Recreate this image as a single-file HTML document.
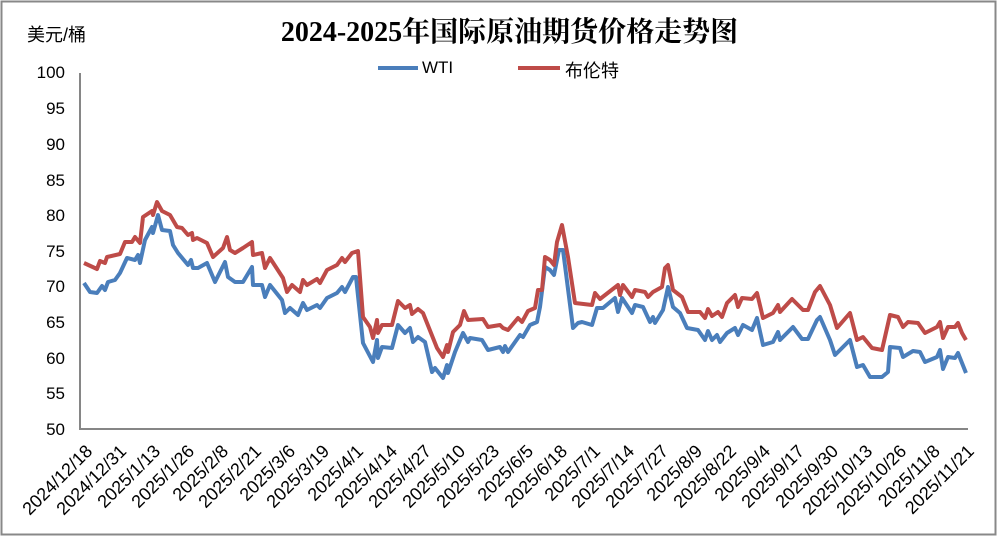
<!DOCTYPE html>
<html><head><meta charset="utf-8"><style>
body{margin:0;background:#fff;}
#c{position:relative;width:997px;height:536px;overflow:hidden;font-family:"Liberation Sans","Noto Sans CJK SC",sans-serif;}
.yl{position:absolute;right:932px;font-size:17px;color:#000;width:40px;text-align:right;}
.xl{position:absolute;font-size:18px;white-space:nowrap;transform-origin:100% 0;transform:rotate(-45deg);}
</style></head><body><div id="c">
<svg width="997" height="536" style="position:absolute;left:0;top:0">
<rect x="1.5" y="1.5" width="994" height="533" fill="#fff" stroke="#888" stroke-width="2"/>
<polyline points="80,73 80,429 968,429" fill="none" stroke="#868686" stroke-width="2"/>
<line x1="378" y1="68" x2="418" y2="68" stroke="#4a7ebb" stroke-width="4"/>
<line x1="518" y1="68" x2="560" y2="68" stroke="#be4b48" stroke-width="4"/>
<polyline fill="none" stroke="#4a7ebb" stroke-width="4" stroke-linejoin="round" points="84,283 90,292 97,293 102,286 105,290 108,282 115,280 120,273 127,258 135,260 138,255 140,263 145,240 152,227 153,233 158,215 162,230 170,231 173,245 178,253 188,265 191,260 193,268 198,268 207,263 215,282 225,262 228,277 235,282 243,282 252,267 253,285 262,285 265,297 270,285 282,300 285,313 290,308 298,315 303,303 307,310 317,305 320,308 327,298 337,293 342,287 345,292 353,277 356,277 363,343 373,362 377,340 378,358 382,347 392,348 398,325 405,333 410,328 413,342 418,337 425,342 432,372 435,368 443,378 447,365 448,373 455,352 463,333 468,342 470,338 482,340 488,350 500,347 503,352 505,346 508,352 520,335 523,337 530,325 537,322 540,307 545,267 550,270 554,275 559,250 563,250 573,328 578,323 582,322 592,325 597,308 603,308 615,298 618,312 622,298 632,313 635,305 643,307 650,322 653,317 655,323 663,310 668,287 673,307 680,313 687,328 698,330 705,340 708,331 712,340 717,335 720,342 727,333 735,328 738,335 743,325 752,330 757,318 763,345 773,342 778,332 780,340 793,327 802,339 808,339 817,320 820,317 830,340 835,355 850,340 857,367 863,365 870,377 882,377 888,372 890,347 900,348 903,357 913,351 920,352 925,362 937,357 940,350 943,369 948,357 955,358 958,353 962,363 966,373"/>
<polyline fill="none" stroke="#be4b48" stroke-width="4" stroke-linejoin="round" points="84,263 97,269 100,261 105,263 107,257 120,254 125,242 132,242 135,237 140,243 143,217 152,211 153,215 157,202 162,211 170,215 177,227 182,228 188,235 192,233 193,240 197,238 207,243 213,257 223,248 227,237 230,250 235,253 243,248 252,242 253,255 262,253 265,268 270,258 283,278 287,292 292,285 300,292 303,280 307,285 317,279 320,283 327,270 337,265 342,258 345,262 352,253 358,251 363,317 370,327 373,338 377,320 378,333 382,325 392,325 398,301 405,308 410,305 412,314 418,309 423,313 437,348 443,357 447,345 448,352 453,332 460,325 464,311 468,320 483,319 488,327 500,325 503,328 508,330 518,318 522,322 528,311 535,308 538,290 542,290 545,257 550,260 554,265 557,242 562,225 568,257 575,303 592,305 595,293 600,299 618,285 620,295 623,285 632,297 635,290 645,292 648,297 653,292 662,287 665,268 668,265 673,290 682,297 688,312 700,312 705,318 708,309 712,316 718,312 722,317 727,303 735,295 738,307 742,298 752,299 757,293 763,318 773,313 778,305 780,312 792,299 803,310 808,310 815,292 820,286 830,305 837,328 850,313 857,340 863,337 872,348 882,350 890,315 898,317 903,327 908,322 918,323 925,333 937,327 940,322 943,338 948,327 955,327 958,323 962,333 966,340"/>
</svg>
<div style="position:absolute;left:0;width:997px;top:10px;text-align:center;font-family:'Liberation Serif','Noto Serif CJK SC',serif;font-size:28px;font-weight:bold;padding-left:22px;box-sizing:border-box;white-space:nowrap">2024-2025年国际原油期货价格走势图</div>
<div style="position:absolute;left:27px;top:21px;font-size:18px">美元/桶</div>
<div style="position:absolute;left:422px;top:58px;font-size:17px">WTI</div>
<div style="position:absolute;left:565px;top:57px;font-size:18px">布伦特</div>
<div class="yl" style="top:63px">100</div>
<div class="yl" style="top:99px">95</div>
<div class="yl" style="top:135px">90</div>
<div class="yl" style="top:171px">85</div>
<div class="yl" style="top:206px">80</div>
<div class="yl" style="top:242px">75</div>
<div class="yl" style="top:277px">70</div>
<div class="yl" style="top:313px">65</div>
<div class="yl" style="top:349px">60</div>
<div class="yl" style="top:384px">55</div>
<div class="yl" style="top:420px">50</div>
</div>
<script>
var L=["2024/12/18","2024/12/31","2025/1/13","2025/1/26","2025/2/8","2025/2/21","2025/3/6","2025/3/19","2025/4/1","2025/4/14","2025/4/27","2025/5/10","2025/5/23","2025/6/5","2025/6/18","2025/7/1","2025/7/14","2025/7/27","2025/8/9","2025/8/22","2025/9/4","2025/9/17","2025/9/30","2025/10/13","2025/10/26","2025/11/8","2025/11/21"];
var c=document.getElementById('c');
for(var i=0;i<L.length;i++){var d=document.createElement('div');d.className='xl';d.textContent=L[i];var x=82+33.9*i;d.style.right=(997-x)+'px';d.style.top='441px';c.appendChild(d);}
</script>
</body></html>
